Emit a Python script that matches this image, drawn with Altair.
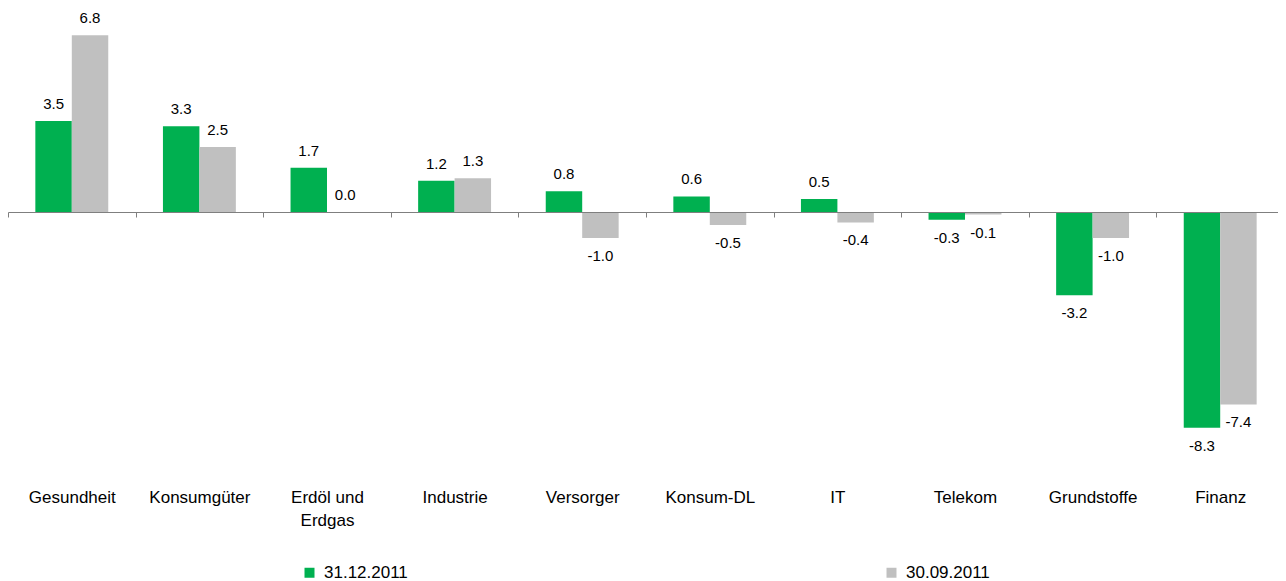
import altair as alt
import pandas as pd

categories = ["Gesundheit", "Konsumgüter", "Erdöl und Erdgas", "Industrie", "Versorger",
              "Konsum-DL", "IT", "Telekom", "Grundstoffe", "Finanz"]
series_names = ["31.12.2011", "30.09.2011"]
values_dec = [3.5, 3.3, 1.7, 1.2, 0.8, 0.6, 0.5, -0.3, -3.2, -8.3]
values_sep = [6.8, 2.5, 0.0, 1.3, -1.0, -0.5, -0.4, -0.1, -1.0, -7.4]
colors = ["#00b050", "#c0c0c0"]

rows = []
for i, c in enumerate(categories):
    for s, vals in zip(series_names, [values_dec, values_sep]):
        v = vals[i]
        rows.append({"cat": c, "series": s, "value": v, "label": f"{v:.1f}"})
df = pd.DataFrame(rows)

FONT = "Liberation Sans"

x = alt.X("cat:N", sort=categories, title=None,
          scale=alt.Scale(paddingInner=0, paddingOuter=0),
          axis=alt.Axis(orient="bottom", offset=-248, tickBand="extent", ticks=True,
                        tickSize=5, tickColor="#7f7f7f", domainColor="#7f7f7f",
                        domainWidth=1, tickWidth=1, labelAngle=0, labelPadding=272,
                        labelFont=FONT, labelFontSize=17, labelColor="#000000",
                        labelOverlap=False, labelBound=False, labelLineHeight=23,
                        labelExpr="datum.label == 'Erdöl und Erdgas' ? ['Erdöl und', 'Erdgas'] : datum.label",
                        zindex=1, grid=False))
xo = alt.XOffset("series:N", sort=series_names,
                 scale=alt.Scale(paddingInner=0, paddingOuter=0.75))
y = alt.Y("value:Q", title=None,
          scale=alt.Scale(domain=[-9.538, 7.846], nice=False, zero=False),
          axis=None)

base = alt.Chart(df)

bars = base.mark_bar().encode(
    x=x, xOffset=xo, y=y, y2=alt.datum(0),
    color=alt.Color("series:N", sort=series_names,
                    scale=alt.Scale(domain=series_names, range=colors),
                    legend=alt.Legend(title=None, orient="none", direction="horizontal",
                                      legendX=293, legendY=556, columnPadding=475,
                                      symbolType="square", symbolSize=100,
                                      symbolStrokeWidth=0, labelFont=FONT,
                                      labelFontSize=17, labelColor="#000000",
                                      labelOffset=6)),
)

def labels(cond, dy):
    return base.transform_filter(cond).mark_text(
        font=FONT, fontSize=15, color="#000000", baseline="middle", dy=dy
    ).encode(x=alt.X("cat:N", sort=categories), xOffset=xo, y=y, text="label:N")

pos = labels("datum.value >= 0", -17)
neg = labels("datum.value < 0", 18)

chart = alt.layer(bars, pos, neg).properties(
    width=1276, height=452,
    autosize=alt.AutoSizeParams(type="none"),
    padding={"left": 0, "top": 0, "right": -6, "bottom": 123},
).configure_view(stroke=None)

chart.save("out.html", embed_options={"renderer": "svg", "actions": False})
